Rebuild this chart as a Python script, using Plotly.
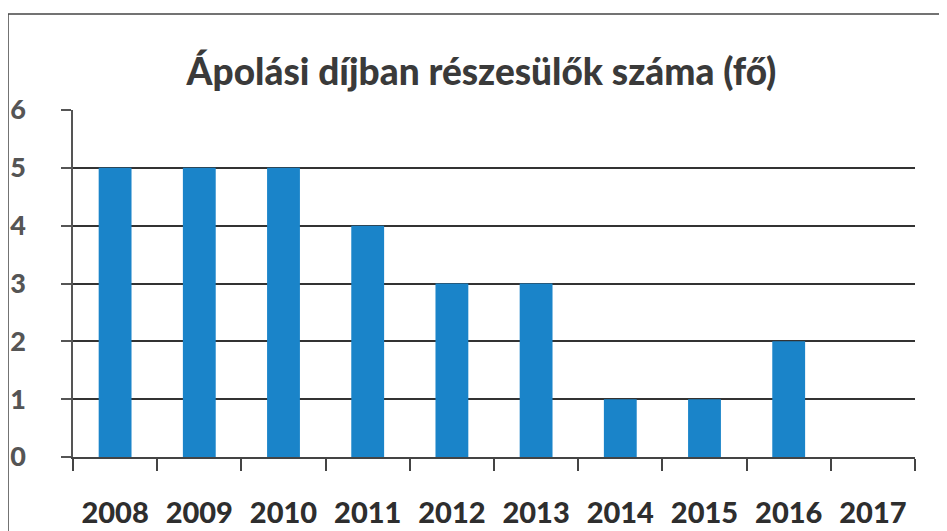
import plotly.graph_objects as go

years = ["2008", "2009", "2010", "2011", "2012", "2013", "2014", "2015", "2016", "2017"]
values = [5, 5, 5, 4, 3, 3, 1, 1, 2, 0]
title_text = "Ápolási díjban részesülők száma (fő)"
y_ticks = [0, 1, 2, 3, 4, 5, 6]

# the page body adds an 8px offset, so figure coords = screen coords - 8
L, R, T, B = 65, 40, 102, 82
W, H = 947, 531
pw, ph = W - L - R, H - T - B

def px(x):
    return (x - L) / pw

def py(y):
    return (H - B - y) / ph

fig = go.Figure(go.Bar(
    x=years, y=values,
    marker=dict(color="#1a84c9", line=dict(width=0)),
    width=0.39,
))

fig.update_layout(
    width=W, height=H,
    margin=dict(l=L, r=R, t=T, b=B, autoexpand=False),
    paper_bgcolor="white", plot_bgcolor="white",
    showlegend=False,
    title=dict(text=title_text, x=0.5, xref="container", xanchor="center",
               y=(H - 64) / H, yref="container", yanchor="middle", automargin=False,
               font=dict(family="Lato", size=37, color="#3a3a3a", weight=900)),
    font=dict(family="Lato"),
)

fig.update_xaxes(
    type="category", automargin=False,
    showline=True, linecolor="#444", linewidth=1.5,
    ticks="outside", tickson="boundaries", ticklen=12, tickwidth=1.5, tickcolor="#444",
    tickfont=dict(family="Lato", size=29, color="#2e2e2e", weight=900),
    ticklabelstandoff=29,
    showgrid=False,
)

fig.update_yaxes(
    range=[0, 6], tickvals=y_ticks, automargin=False,
    showline=True, linecolor="#555", linewidth=1.5,
    ticks="outside", ticklen=10, tickwidth=1.5, tickcolor="#555",
    tickfont=dict(family="Lato", size=27, color="#555", weight=900),
    ticklabelstandoff=30,
    showgrid=True, gridcolor="#333", gridwidth=1.5,
    zeroline=False,
)

# outer chart border (scanned frame)
fig.add_shape(type="line", xref="paper", yref="paper",
              x0=px(0), x1=px(947), y0=py(6), y1=py(6),
              line=dict(color="#444", width=1.5))
fig.add_shape(type="line", xref="paper", yref="paper",
              x0=px(0), x1=px(0), y0=py(6), y1=py(531),
              line=dict(color="#444", width=1.5))

fig.write_html("out.html")
